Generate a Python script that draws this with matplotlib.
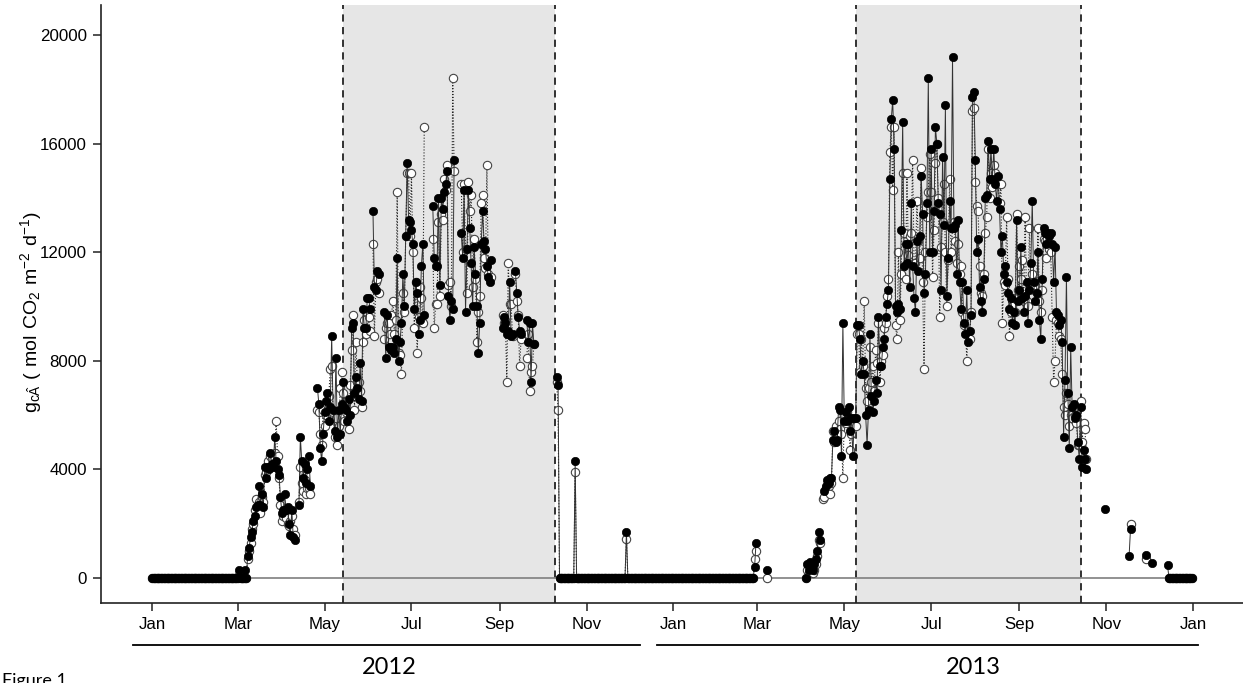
import numpy as np
import matplotlib
matplotlib.use('Agg')
import matplotlib.pyplot as plt
import matplotlib.dates as mdates
from matplotlib.lines import Line2D

N = None

# 2012 season, one value per day from 1 March
f12_season = [
    0, 300, 0, 0, 0, 300, 0, 800, 1100, 1500,
    1700, 2100, 2300, 2600, 2700, 3400, 2700, 3100, 2600, 4100,
    3700, 4100, 4000, 4600, 4200, 4100, 5200, 4300, 4000, 3800,
    3000, 2400, 2500, 3100, 2500, 2600, 2000, 1600, 2500, 1500,
    1400, N, N, 2700, 5200, 4300, 3700, 4200, 3500, 4000,
    4500, 3400, N, N, N, N, 7000, 6400, 4800, 4300,
    5300, 6100, 6500, 6800, 5800, 6300, 8900, 6200, 5400, 8100,
    5200, 6200, 5300, 6400, 7200, 6300, 6200, 5800, 6600, 6000,
    9200, 9400, 6800, 7400, 7000, 6600, 7900, 6500, 9900, 9200,
    9200, 10300, 10300, 9900, N, 13500, 10700, 10600, 11300, 11200,
    N, N, N, 9800, 8100, 9700, 8500, 8500, 8400, 8500,
    8300, 8800, 11800, 8000, 8700, 9400, 11200, 10000, 12600, 15300,
    13200, 13100, 12800, 12300, 9900, 10900, 10500, 9000, 9500, 11500,
    12300, 9700, N, N, N, N, N, 13700, 11800, 11500,
    11500, 14000, 10800, 14000, 13600, 14200, 14500, 15000, 10400, 9500,
    10200, 9900, 15400, N, N, N, N, 12700, 11800, 14300,
    9800, 12100, 14300, 12900, 11600, 10000, 12200, 11200, 10000, 8300,
    9400, 12300, 13500, 12400, 12100, 11500, 11100, 10900, 11700, N,
    N, N, N, N, N, N, 9200, 9600, 9400, 9000,
    9100, 10900, 8900, 9000, N, 11300, 10500, 9600, 9100, 9000,
    N, N, N, 9500, 8700, 9400, 7200, 9400, 8600, N,
]
o12_season = [
    0, 100, 0, 0, 0, 0, 0, 700, 1000, 1300,
    1800, 2000, 2500, 2900, 2600, 2800, 2400, 3000, 2800, 3800,
    3900, 4300, 4100, 4500, 4400, 4200, 4600, 5800, 4500, 3700,
    2700, 2100, 2300, 2500, 2200, 2000, 1900, 2100, 2300, 1800,
    1600, N, N, 2800, 4100, 3500, 3200, 3600, 3100, 3300,
    3300, 3100, N, N, N, N, 6200, 6100, 5300, 4900,
    6200, 5600, 6000, 6400, 6700, 7700, 7800, 6100, 5200, 5900,
    4900, 5600, 7000, 7600, 6800, 5800, 6100, 6500, 5500, 7100,
    8400, 9700, 6200, 8700, 7200, 7200, 6900, 6300, 8700, 9500,
    9000, 9800, 9600, 9100, N, 12300, 8900, 10900, 11000, 10500,
    N, N, N, 8800, 9200, 9400, 9400, 9000, 9700, 10200,
    9000, 9500, 14200, 8300, 8200, 7500, 10500, 9800, 12600, 14900,
    14900, 12600, 14900, 12000, 9200, 10900, 8300, 9600, 10700, 10300,
    9400, 16600, N, N, N, N, N, 12500, 9200, 10100,
    10100, 13100, 10400, 13400, 13200, 14700, 14300, 15200, 10800, 10900,
    10000, 18400, 15000, N, N, N, N, 14500, 12000, 14500,
    12100, 10500, 14600, 13500, 14100, 10700, 12500, 11000, 8700, 9800,
    10400, 13800, 14100, 11800, 11400, 15200, 11200, 11000, 11100, N,
    N, N, N, N, N, N, 9700, 9400, 9500, 7200,
    11600, 10100, 10100, 8900, N, 11200, 10200, 9700, 7800, 8800,
    N, N, N, 8100, 9000, 6900, 7600, 7800, 8600, N,
]

# 2013 spring, daily from 3 April
f13_spring = [0, 500, 300, 600, 400, 300, 500, 700, 1000, 1700, 1400, N]
o13_spring = [0, 300, 200, 400, 300, 200, 300, 500, 800, 1400, 1300, N]

# 2013 season, daily from 15 April
f13_season = [
    N, 3200, 3400, 3600, 3500, 3700, 3700, 5100, 5400, 5000,
    5100, 6300, 6200, 4500, 9400, 5800, 6100, 5800, 6300, 5400,
    5900, 4500, 5900, 5900, 9300,
    9300, 8800, 7500, 8000, 7500, 6000, 4900, 6200, 9000, 6700,
    6100, 6500, 7300, 6800, 9600, 7800, 7800, 8500, 8800, 9600,
    10100, 10600, 14700, 16900, 17600, 15800, 10000, 9800, 10100, 9900,
    12800, 16800, 11500, 12300, 11600, 12300, 10700, 13800, 11500, 10300,
    9800, 12400, 11300, 12600, 14800, 13400, 10500, 11200, 13800, 18400,
    12000, 15800, 12000, 13500, 16600, 16000, 13800, 13400, 10600, 15500,
    13000, 17400, 10400, 11800, 13900, 12900, 19200, 12900, 13000, 11200,
    13200, 10900, 9900, 10900, 9400, 9000, 10600, 8700, 9100, 9700,
    17700, 17900, 15400, 12000, 12500, 10700, 10200, 9800, 11000, 14000,
    14100, 16100, 14700, 15800, 14700, 15800, 14500, 13900, 14800, 13600,
    12000, 12600, 11200, 11500, 10900, 10500, 9900, 10300, 9400, 9800,
    9300, 13200, 10200, 10600, 12200, 10300, 9800, 10400, 10900, 9400,
    10600, 11600, 13900, 10900, 10200, 10500, 12000, 9500, 8800, 11000,
    12900, 12700, 12300, 12700, 12600, 12700, 12300, 10900, 12200, 9800,
    9700, 9300, 9500, 8700, 5200, 7300, 11100, 6800, 4800, 8500,
    6300, 6400, 5900, 6000, 5000, 4400, 6300, 4100, 4700, 4400,
    4000,
]
o13_season = [
    2900, 3000, 3300, 3200, 3400, 3100, 3500, 5400, 5000, 5600,
    5200, 5800, 5500, 5300, 3700, 6000, 5700, 6100, 5900, 4700,
    5300, 5800, 5600, 5600, 9000,
    9000, 7600, 8800, 7800, 10200, 7000, 6500, 7000, 8500, 7200,
    7800, 6900, 8400, 7900, 9400, 7200, 8000, 8200, 9200, 9400,
    10400, 11000, 15700, 16600, 14300, 16600, 9300, 8800, 12000, 9500,
    11200, 14900, 12700, 11000, 14900, 11900, 12600, 12700, 15400, 11600,
    11600, 13900, 12400, 11800, 15100, 10900, 7700, 12000, 13300, 14200,
    15600, 14200, 11100, 12800, 15300, 16000, 14000, 9600, 12200, 13100,
    14500, 12000, 10000, 11700, 14700, 12000, 12900, 13100, 12400, 11600,
    12300, 11200, 11500, 9800, 9300, 9600, 8000, 9100, 8800, 9800,
    17200, 17300, 14600, 13700, 13500, 11500, 10500, 10400, 11200, 12700,
    13300, 15800, 14000, 14900, 14400, 15200, 14900, 14600, 14500, 13800,
    14500, 9400, 10900, 10800, 13300, 11000, 8900, 9800, 10000, 10300,
    9800, 13400, 10600, 11500, 11000, 11700, 10200, 13300, 10200, 10000,
    12900, 10900, 11200, 10600, 10800, 10500, 12900, 10200, 9800, 10600,
    12500, 12400, 11800, 12300, 12100, 12000, 9600, 7200, 8000, 9500,
    9400, 8900, 8800, 7500, 6300, 6000, 6800, 6400, 5600, 6000,
    5900, 6300, 6000, 5700, 4900, 4900, 6500, 5000, 5700, 5500,
    4400,
]

filled_2012 = ([0] * 60 + f12_season + [N] * 14 + [7400, 7100] + [0] * 11
               + [4300] + [0] * 35 + [1700] + [0] * 32)
open_2012 = ([0] * 60 + o12_season + [N] * 14 + [7200, 6200] + [0] * 11
             + [3900] + [0] * 35 + [1450] + [0] * 32)
filled_2013 = ([0] * 57 + [400, 1300] + [N] * 7 + [300] + [N] * 26 + f13_spring
               + f13_season + [N] * 12 + [2540] + [N] * 16 + [800, 1800] + [N] * 10
               + [850] + [N] * 3 + [550] + [N] * 10 + [480] + [0] * 17)
open_2013 = ([0] * 57 + [700, 1000] + [N] * 7 + [0] + [N] * 26 + o13_spring
             + o13_season + [N] * 12 + [N] + [N] * 16 + [N, 2000] + [N] * 10
             + [700] + [N] * 3 + [N] + [N] * 10 + [N] + [0] * 17)

# growing-season windows
seasons = [('2012-05-14', '2012-10-10'), ('2013-05-09', '2013-10-14')]
year_labels = ['2012', '2013']

days = np.arange('2012-01-01', '2014-01-01', dtype='datetime64[D]')
filled = np.array(filled_2012 + filled_2013, dtype=float)
hollow = np.array(open_2012 + open_2013, dtype=float)

plt.rcParams['font.family'] = ['Liberation Sans', 'DejaVu Sans']

fig = plt.figure(figsize=(12.43, 6.83), dpi=100)
ax = fig.add_axes([101 / 1243, 80 / 683, 1142 / 1243, 598 / 683])

for a, b in seasons:
    ax.axvspan(np.datetime64(a), np.datetime64(b), color='#e6e6e6', zorder=0, lw=0)
    for d in (a, b):
        ax.axvline(np.datetime64(d), color='#222222', ls=(0, (4, 3)), lw=1.3, zorder=1)

ax.hlines(0, days[0], days[-1], color='#7f7f7f', lw=1.2, zorder=2)

ax.plot(days, hollow, ls=':', color='#222222', lw=0.8, marker='o', ms=6,
        mfc='white', mec='#444444', mew=0.8, zorder=3)
ax.plot(days, filled, ls='-', color='#333333', lw=0.7, marker='o', ms=6,
        mfc='black', mec='black', mew=0.5, zorder=4)

ax.set_xlim(np.datetime64('2011-11-26'), np.datetime64('2014-02-05'))
ax.set_ylim(-920, 21100)
ax.set_yticks([0, 4000, 8000, 12000, 16000, 20000])
ax.xaxis.set_major_locator(mdates.MonthLocator(bymonth=[1, 3, 5, 7, 9, 11]))
ax.xaxis.set_major_formatter(mdates.DateFormatter('%b'))

for s in ('top', 'right'):
    ax.spines[s].set_visible(False)
for s in ('left', 'bottom'):
    ax.spines[s].set_linewidth(1.2)
    ax.spines[s].set_color('#222222')
ax.tick_params(direction='out', length=6, width=1.1, labelsize=12.2, color='#222222', pad=4)

fig.text(31 / 1243, 1 - 312 / 683,
         r'$\mathregular{g_{c\hat{A}}\ (\ mol\ CO_2\ m^{-2}\ d^{-1})}$',
         rotation=90, ha='center', va='center', fontsize=14)

# year brackets under the month labels
for (x0, x1, xm), lab in zip([(133, 640, 389), (657, 1198, 973)], year_labels):
    fig.add_artist(Line2D([x0 / 1243, x1 / 1243], [1 - 645 / 683] * 2,
                          color='black', lw=1.3, transform=fig.transFigure))
    fig.text(xm / 1243, 1 - 667 / 683, lab, ha='center', va='center',
             fontsize=17, family='Lato')

fig.text(2 / 1243, 1 - 673 / 683, 'Figure 1', ha='left', va='top',
         fontsize=13, family='Lato')

fig.savefig('out.png', dpi=100)
